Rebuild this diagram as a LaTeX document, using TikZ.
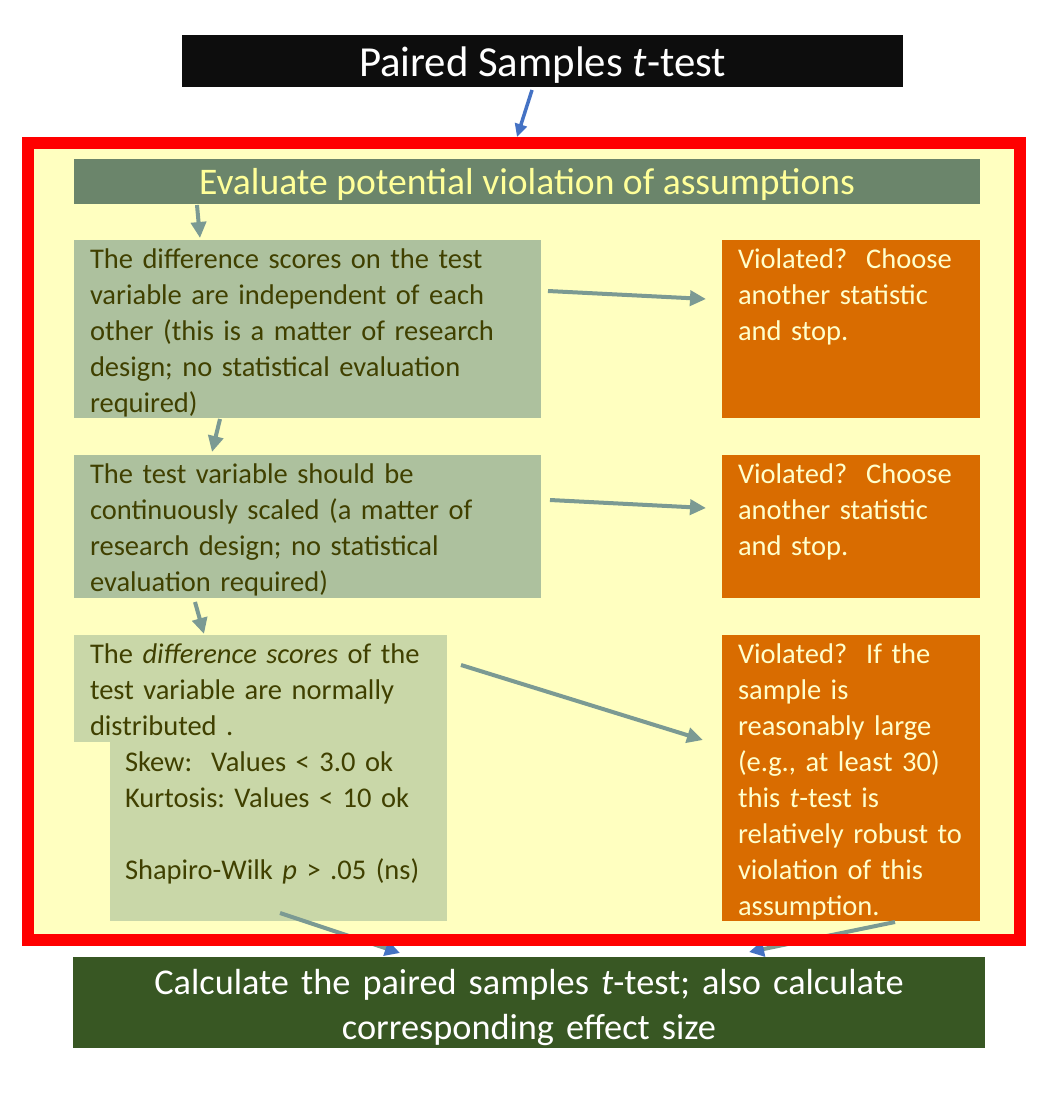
\documentclass[tikz,border=0pt]{standalone}
\usepackage{fontspec}
\setmainfont{Carlito}
\usetikzlibrary{arrows.meta,calc}
\definecolor{framefill}{HTML}{FFFFC0}
\definecolor{framered}{HTML}{FF0000}
\definecolor{titlebg}{HTML}{0D0D0D}
\definecolor{evalbg}{HTML}{6B856B}
\definecolor{boxA}{HTML}{ADC19E}
\definecolor{boxB}{HTML}{C9D7A8}
\definecolor{orangebg}{HTML}{D96C00}
\definecolor{bottombg}{HTML}{385723}
\definecolor{bodytext}{HTML}{404000}
\definecolor{creamA}{HTML}{FFFF99}
\definecolor{creamB}{HTML}{FFFFCC}
\definecolor{greyarrow}{HTML}{7B9A93}
\definecolor{bluearrow}{HTML}{4472C4}
\newcommand\bodyfont{\fontsize{28.5}{36}\selectfont\frenchspacing}
\begin{document}
\frenchspacing
\begin{tikzpicture}[x=1pt,y=-1pt,
  box/.style={rectangle,draw=none,inner sep=0pt,outer sep=0pt,anchor=north west},
  txt/.style={inner sep=0pt,outer sep=0pt,anchor=north west,align=left,text width=600pt,font=\bodyfont},
  garrow/.style={draw=greyarrow,line width=4pt,-{Triangle[length=16pt,width=15pt]}},
  barrow/.style={draw=bluearrow,line width=3.5pt,-{Triangle[length=13pt,width=12pt]}},
  mixarrow/.style={draw=greyarrow,line width=4pt,-{Triangle[length=15pt,width=15pt,color=bluearrow]}}]
\useasboundingbox (0,0) rectangle (1040,1100);
% frame fill
\node[box,fill=framefill,minimum width=992pt,minimum height=796.5pt] (frame) at (28,143) {};
% title
\node[box,fill=titlebg,minimum width=721pt,minimum height=52pt] (title) at (182,35) {};
\node[anchor=base,inner sep=0pt,text=white,font=\fontsize{42.8}{48}\selectfont] (titlet) at (542.5,76) {Paired Samples \textit{t}-test};
% evaluate
\node[box,fill=evalbg,minimum width=906pt,minimum height=45pt] (eval) at (74,159) {};
\node[anchor=base,inner sep=0pt,text=creamA,font=\fontsize{37.6}{42}\selectfont] (evalt) at (527,194.5) {Evaluate potential violation of assumptions};
% box 1
\node[box,fill=boxA,minimum width=467pt,minimum height=178pt] (b1) at (74,240) {};
\node[txt,text=bodytext] (b1t) at (90,243) {\strut The difference scores on the test\\variable are independent of each\\other (this is a matter of research\\design; no statistical evaluation\\required)};
\node[box,fill=orangebg,minimum width=258pt,minimum height=178pt] (o1) at (722,240) {};
\node[txt,text=creamB] (o1t) at (738,243) {\strut Violated?\ \ Choose\\another statistic\\and stop.};
% box 2
\node[box,fill=boxA,minimum width=467pt,minimum height=143pt] (b2) at (74,455) {};
\node[txt,text=bodytext] (b2t) at (90,458) {\strut The test variable should be\\continuously scaled (a matter of\\research design; no statistical\\evaluation required)};
\node[box,fill=orangebg,minimum width=258pt,minimum height=143pt] (o2) at (722,455) {};
\node[txt,text=creamB] (o2t) at (738,458) {\strut Violated?\ \ Choose\\another statistic\\and stop.};
% box 3
\node[box,fill=boxB,minimum width=373pt,minimum height=107pt] (b3) at (74,635) {};
\node[box,fill=boxB,minimum width=337pt,minimum height=180pt] (b3l) at (110,741) {};
\node[txt,text=bodytext] (b3t) at (90,638) {\strut The \textit{difference scores} of the\\test variable are normally\\distributed .};
\node[txt,text=bodytext] (b3lt) at (125,746) {\strut Skew:\ \ Values < 3.0 ok\\Kurtosis: Values < 10 ok\\\mbox{}\\Shapiro-Wilk \textit{p} > .05 (ns)};
\node[box,fill=orangebg,minimum width=258pt,minimum height=286pt] (o3) at (722,635) {};
\node[txt,text=creamB] (o3t) at (738,638) {\strut Violated?\ \ If the\\sample is\\reasonably large\\(e.g., at least 30)\\this \textit{t}-test is\\relatively robust to\\violation of this\\assumption.};
% bottom
\node[box,fill=bottombg,minimum width=912pt,minimum height=91pt] (bottom) at (73,957) {};
\node[inner sep=0pt,anchor=north,align=center,text width=900pt,text=white,font=\fontsize{36.3}{45}\selectfont] (bottomt) at (529,962.5) {\strut Calculate the paired samples \textit{t}-test; also calculate\\corresponding effect size};
% grey arrows
\draw[garrow] ($(eval.south west)+(123,1)$) -- ($(b1.north west)+(126,-2)$);
\draw[garrow] ($(b1.north east)+(7,51)$) -- ($(o1.north west)+(-16,59)$);
\draw[garrow] ($(b1.south west)+(146,1)$) -- ($(b2.north west)+(138,-3)$);
\draw[garrow] ($(b2.north east)+(9,45)$) -- ($(o2.north west)+(-16,53)$);
\draw[garrow] ($(b2.south west)+(121,4)$) -- ($(b3.north west)+(130,-1)$);
\draw[garrow] ($(b3.north east)+(14,30)$) -- ($(o3.north west)+(-19,105)$);
\draw[mixarrow] ($(b3l.south west)+(170,-8)$) -- ($(bottom.north west)+(327,-4)$);
\draw[mixarrow] ($(o3.south west)+(173,1)$) -- ($(bottom.north west)+(676,-5)$);
% red frame border
\draw[draw=framered,line width=12pt] (frame.north west) rectangle (frame.south east);
% title arrow
\draw[barrow] ($(title.south)+(-10.5,3)$) -- ($(frame.north)+(-7,-6)$);
\end{tikzpicture}
\end{document}
